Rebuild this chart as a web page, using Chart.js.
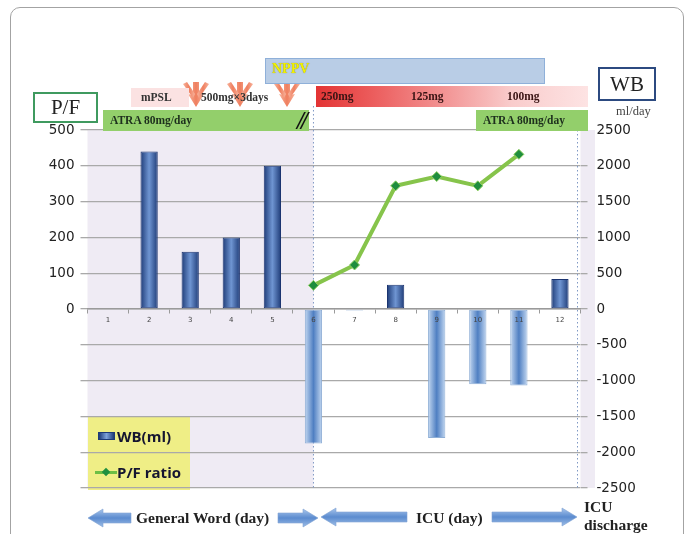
<!DOCTYPE html>
<html>
<head>
<meta charset="utf-8">
<script src="https://cdn.jsdelivr.net/npm/chart.js@4.4.1/dist/chart.umd.min.js"></script>
<style>
html,body{margin:0;padding:0;background:#fff;}
#wrap{position:relative;width:685px;height:534px;overflow:hidden;background:#fff;}
#chartBox{position:absolute;left:0;top:0;width:685px;height:534px;}
.abs{position:absolute;box-sizing:border-box;white-space:nowrap;}
.sb{font-family:"Liberation Serif","DejaVu Serif",serif;font-weight:bold;}
#frame{position:absolute;left:10px;top:7px;width:674px;height:600px;border:1px solid #a3a3a3;border-radius:10px;box-sizing:border-box;pointer-events:none;}
svg{position:absolute;left:0;top:0;pointer-events:none;}
</style>
</head>
<body>
<div id="wrap">
  <div id="chartBox"><canvas id="c"></canvas></div>
  <div id="frame"></div>
  <svg width="685" height="534" viewBox="0 0 685 534">
    <defs>
      <linearGradient id="blueArrow" x1="0" y1="0" x2="0" y2="1">
        <stop offset="0" stop-color="#a9c6ec"/>
        <stop offset="0.5" stop-color="#5b8bcf"/>
        <stop offset="1" stop-color="#9dbde6"/>
      </linearGradient>
      <linearGradient id="salmon" x1="0" y1="0" x2="1" y2="0">
        <stop offset="0" stop-color="#f7b39c"/>
        <stop offset="0.5" stop-color="#ef7f5f"/>
        <stop offset="1" stop-color="#f7b39c"/>
      </linearGradient>
    </defs>
    <g id="arrows" fill="url(#blueArrow)" stroke="#7fa3d4" stroke-width="0.6"></g>
    <g id="downArrows" fill="url(#salmon)"></g>
  </svg>

  <!-- top annotations -->
  <div class="abs" style="left:265px;top:58px;width:280px;height:26px;background:#b9cde6;border:1px solid #8fb0d9;"></div>
  <div class="abs sb" style="left:272px;top:60px;font-size:14px;line-height:17px;color:#f2f200;text-shadow:0 0 1px #6b6b3a;">NPPV</div>

  <div class="abs" style="left:131px;top:88px;width:58px;height:19px;background:#fbe2e2;"></div>
  <div class="abs sb" style="left:141px;top:90px;font-size:11.5px;line-height:15px;color:#333;">mPSL</div>
  <div class="abs sb" style="left:201px;top:90px;font-size:11.5px;line-height:15px;color:#333;">500mg×3days</div>

  <div class="abs" style="left:316px;top:86px;width:272px;height:21px;background:linear-gradient(to right,#e33434 0%,#ec5f5f 22%,#f39a9a 50%,#f9cccc 72%,#fde3e3 100%);"></div>
  <div class="abs sb" style="left:321px;top:89px;font-size:11.5px;line-height:15px;color:#3a1414;">250mg</div>
  <div class="abs sb" style="left:411px;top:89px;font-size:11.5px;line-height:15px;color:#3a1414;">125mg</div>
  <div class="abs sb" style="left:507px;top:89px;font-size:11.5px;line-height:15px;color:#3a1414;">100mg</div>

  <div class="abs" style="left:103px;top:110px;width:206px;height:21px;background:#93cf6b;"></div>
  <div class="abs sb" style="left:110px;top:113px;font-size:11.5px;line-height:15px;color:#1d2f1d;">ATRA 80mg/day</div>
  <div class="abs" style="left:476px;top:110px;width:112px;height:21px;background:#93cf6b;"></div>
  <div class="abs sb" style="left:483px;top:113px;font-size:11.5px;line-height:15px;color:#1d2f1d;">ATRA 80mg/day</div>
  <div class="abs sb" style="left:297px;top:108px;font-size:25px;line-height:26px;font-style:italic;color:#111;letter-spacing:-3px;">//</div>

  <div class="abs" style="left:33px;top:92px;width:65px;height:31px;border:2px solid #3f9a5f;background:#fff;font-family:'Liberation Serif',serif;font-size:21px;line-height:27px;text-align:center;color:#222;">P/F</div>
  <div class="abs" style="left:598px;top:67px;width:58px;height:34px;border:2px solid #2c4a80;background:#fff;font-family:'Liberation Serif',serif;font-size:21px;line-height:30px;text-align:center;color:#222;">WB</div>
  <div class="abs" style="left:616px;top:104px;font-family:'Liberation Serif',serif;font-size:12.5px;line-height:15px;color:#444;">ml/day</div>

  <!-- legend -->
  <div class="abs" style="left:98px;top:432px;width:17px;height:8px;border:1px solid #1e3a78;background:linear-gradient(to right,#1e3a78,#7ea2da,#1e3a78);"></div>
  <div class="abs" style="left:117px;top:427px;font-family:'Open Sans',sans-serif;font-weight:bold;font-size:15px;line-height:19px;color:#151530;">WB(ml)</div>
  <div class="abs" style="left:95px;top:471px;width:22px;height:3px;background:#6cbf45;"></div>
  <div class="abs" style="left:103px;top:469px;width:6px;height:6px;background:#1f8f3f;transform:rotate(45deg);"></div>
  <div class="abs" style="left:117px;top:463px;font-family:'Open Sans',sans-serif;font-weight:bold;font-size:15px;line-height:19px;color:#151530;">P/F ratio</div>

  <!-- bottom labels -->
  <div class="abs sb" style="left:136px;top:509px;font-size:15.5px;line-height:18px;color:#222;">General Word (day)</div>
  <div class="abs sb" style="left:416px;top:509px;font-size:15.5px;line-height:18px;color:#222;">ICU (day)</div>
  <div class="abs sb" style="left:584px;top:498px;font-size:15.5px;line-height:18px;color:#222;">ICU</div>
  <div class="abs sb" style="left:584px;top:516px;font-size:15.5px;line-height:18px;color:#222;">discharge</div>
</div>

<script>
// ---- data ----
const days = ['1','2','3','4','5','6','7','8','9','10','11','12'];
const wbValues = [null, 2200, 800, 1000, 2000, -1880, -20, 340, -1800, -1050, -1070, 420];
const pfValues = [null, null, null, null, null, 66, 123, 344, 370, 344, 432, null];
const pfAxis = {min: -500, max: 500, step: 100};
const wbAxis = {min: -2500, max: 2500, step: 500};

// ---- decorations (arrows) ----
const NS = 'http://www.w3.org/2000/svg';
function blockArrow(x1, x2, cy, dir) {
  const hl = 15, hh = 9, sh = 5;
  let pts;
  if (dir < 0) {
    pts = [[x1,cy],[x1+hl,cy-hh],[x1+hl,cy-sh],[x2,cy-sh],[x2,cy+sh],[x1+hl,cy+sh],[x1+hl,cy+hh]];
  } else {
    pts = [[x2,cy],[x2-hl,cy-hh],[x2-hl,cy-sh],[x1,cy-sh],[x1,cy+sh],[x2-hl,cy+sh],[x2-hl,cy+hh]];
  }
  const p = document.createElementNS(NS,'polygon');
  p.setAttribute('points', pts.map(q=>q.join(',')).join(' '));
  document.getElementById('arrows').appendChild(p);
}
blockArrow(88, 131, 518, -1);
blockArrow(278, 318, 518, 1);
blockArrow(321, 407, 517, -1);
blockArrow(492, 577, 517, 1);

function downArrow(cx) {
  const g = document.getElementById('downArrows');
  const p = document.createElementNS(NS,'polygon');
  const pts = [[cx-3,82],[cx+3,82],[cx+3,95],[cx+8,94],[cx,107],[cx-8,94],[cx-3,95]];
  p.setAttribute('points', pts.map(q=>q.join(',')).join(' '));
  g.appendChild(p);
  [-1, 1].forEach(s => {
    const q = document.createElementNS(NS,'polygon');
    const pp = [[cx+s*9,82],[cx+s*13,84],[cx+s*3,98],[cx+s*1,94]];
    q.setAttribute('points', pp.map(r=>r.join(',')).join(' '));
    g.appendChild(q);
  });
}
[196, 240, 287].forEach(downArrow);

// ---- chart ----
const bgPlugin = {
  id: 'bgPlugin',
  beforeDraw(chart) {
    const {ctx, chartArea: a, scales: {x}} = chart;
    const xs = x.getPixelForValue(5);
    ctx.save();
    ctx.fillStyle = '#efebf4';
    ctx.fillRect(a.left, a.top, xs - a.left, a.bottom - a.top);
    ctx.fillRect(a.right, a.top, 14.5, a.bottom - a.top);
    ctx.fillStyle = '#efee86';
    ctx.fillRect(88, 417, 102, 73);
    ctx.restore();
  },
  beforeDatasetsDraw(chart) {
    const {ctx, chartArea: a, scales: {x}} = chart;
    const xs = x.getPixelForValue(5);
    ctx.save();
    ctx.strokeStyle = '#7f98c4';
    ctx.lineWidth = 1;
    ctx.setLineDash([1.5, 2.5]);
    [[xs, a.top - 24], [a.right - 3, a.top - 4]].forEach(([px, top]) => {
      ctx.beginPath();
      ctx.moveTo(px, top);
      ctx.lineTo(px, a.bottom + 2);
      ctx.stroke();
    });
    ctx.restore();
  }
};

function barFill(context) {
  const chart = context.chart;
  if (!chart.chartArea) return '#2a4f8f';
  const v = context.raw;
  const cx = chart.scales.x.getPixelForValue(context.dataIndex);
  const w = 9;
  const g = chart.ctx.createLinearGradient(cx - w, 0, cx + w, 0);
  if (v >= 0) {
    g.addColorStop(0, '#1b3874');
    g.addColorStop(0.5, '#6f95d2');
    g.addColorStop(1, '#1b3874');
  } else {
    g.addColorStop(0, '#c9dcf3');
    g.addColorStop(0.5, '#4f7fc2');
    g.addColorStop(1, '#c9dcf3');
  }
  return g;
}

new Chart(document.getElementById('c'), {
  data: {
    labels: days,
    datasets: [
      {
        type: 'line',
        label: 'P/F ratio',
        data: pfValues,
        yAxisID: 'y',
        order: 0,
        borderColor: '#86c44b',
        borderWidth: 4,
        tension: 0,
        pointStyle: 'rectRot',
        pointRadius: 5,
        pointBackgroundColor: '#1f8d3e',
        pointBorderColor: '#8fd05f',
        pointBorderWidth: 1
      },
      {
        type: 'bar',
        label: 'WB(ml)',
        data: wbValues,
        yAxisID: 'y1',
        order: 1,
        backgroundColor: barFill,
        borderColor: ctx => (ctx.raw >= 0 ? '#1b3470' : '#8eaed6'),
        borderWidth: 1,
        borderSkipped: false,
        barPercentage: 0.42,
        categoryPercentage: 1
      }
    ]
  },
  options: {
    responsive: true,
    maintainAspectRatio: false,
    animation: false,
    layout: {padding: {top: 130, bottom: 46, left: 0, right: 0}},
    plugins: {legend: {display: false}, tooltip: {enabled: false}},
    scales: {
      x: {
        type: 'category',
        position: {y: 0},
        offset: true,
        grid: {display: true, drawOnChartArea: false, drawTicks: true, tickLength: 4, color: '#9a9a9a', offset: true},
        border: {display: true, color: '#9a9a9a', width: 1.5},
        ticks: {z: 2, font: {family: 'DejaVu Sans', size: 7}, color: '#444', padding: 3, maxRotation: 0, autoSkip: false}
      },
      y: {
        position: 'left',
        min: pfAxis.min,
        max: pfAxis.max,
        ticks: {
          stepSize: pfAxis.step,
          callback: v => (v >= 0 ? String(v) : ''),
          font: {family: 'DejaVu Sans', size: 13.5},
          color: '#222',
          padding: 6
        },
        grid: {color: '#a9a9a9', lineWidth: 1.3, tickLength: 7},
        border: {display: false},
        afterFit(s) { s.width = 87.5; }
      },
      y1: {
        position: 'right',
        min: wbAxis.min,
        max: wbAxis.max,
        ticks: {
          stepSize: wbAxis.step,
          callback: v => String(v),
          font: {family: 'DejaVu Sans', size: 13.5},
          color: '#222',
          padding: 9
        },
        grid: {drawOnChartArea: false, color: '#a9a9a9', lineWidth: 1.3, tickLength: 7},
        border: {display: false},
        afterFit(s) { s.width = 104.5; }
      }
    }
  },
  plugins: [bgPlugin]
});
</script>
</body>
</html>
